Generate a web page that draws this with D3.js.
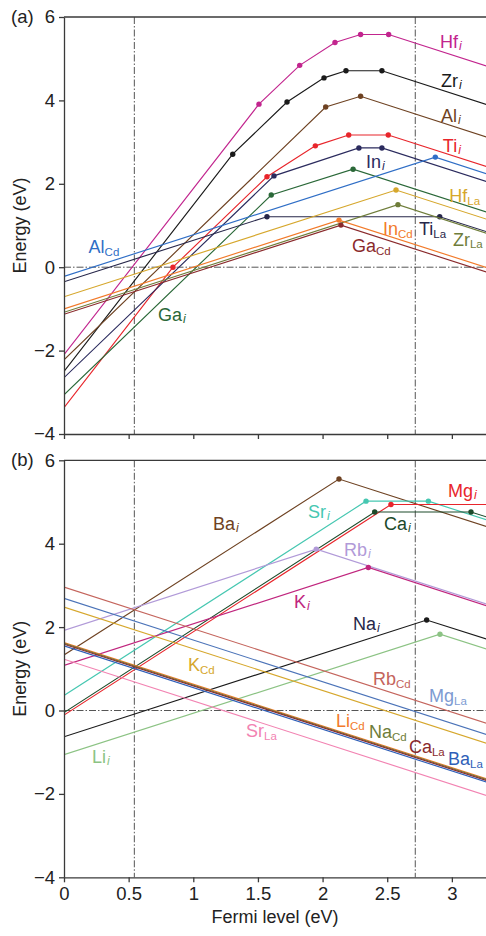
<!DOCTYPE html>
<html>
<head>
<meta charset="utf-8">
<script src="https://cdn.jsdelivr.net/npm/d3@7"></script>
<style>
  body { margin: 0; background: #fff; }
  svg { display: block; font-family: "Liberation Sans", Arial, sans-serif; }
</style>
</head>
<body>
<div id="chart"></div>
<script>
// ---- panel (a): [Fermi level, formation energy] at each kink ----
const hfI  = [[0, -2.1], [1.508, 3.91], [1.823, 4.84], [2.096, 5.39], [2.294, 5.58], [2.511, 5.58], [3.27, 4.82]];
const zrI  = [[0, -2.5], [1.305, 2.71], [1.725, 3.96], [2.011, 4.54], [2.181, 4.71], [2.459, 4.71], [3.27, 3.90]];
const alI  = [[0, -2.22], [2.024, 3.84], [2.294, 4.10], [3.27, 3.12]];
const tiI  = [[0, -3.37], [0.843, 0.0], [1.570, 2.17], [1.944, 2.91], [2.202, 3.17], [2.508, 3.17], [3.27, 2.41]];
const inI  = [[0, -2.65], [1.624, 2.19], [2.281, 2.86], [2.459, 2.86], [3.27, 2.05]];
const gaI  = [[0, -3.06], [1.603, 1.73], [2.236, 2.35], [3.27, 1.32]];
const alCd = [[0, -0.22], [2.872, 2.64], [3.27, 2.24]];
const tiLa = [[0, -0.35], [1.570, 1.21], [2.906, 1.21], [3.27, 0.85]];
const hfLa = [[0, -0.71], [2.568, 1.85], [3.27, 1.15]];
const zrLa = [[0, -1.08], [2.583, 1.50], [3.27, 0.81]];
const inCd = [[0, -1.00], [2.127, 1.13], [3.27, -0.01]];
const gaCd = [[0, -1.13], [2.142, 1.01], [3.27, -0.12]];

// ---- panel (b) ----
const baI  = [[0, 1.33], [2.127, 5.55], [3.27, 4.41]];
const srI  = [[0, 0.36], [2.336, 5.02], [2.818, 5.02], [3.27, 4.57]];
const mgI  = [[0, -0.11], [2.529, 4.94], [3.27, 4.94]];
const caI  = [[0, -0.05], [2.403, 4.76], [3.148, 4.76], [3.27, 4.64]];
const rbI  = [[0, 1.92], [1.951, 3.87], [3.27, 2.55]];
const kI   = [[0, 1.08], [2.354, 3.43], [3.27, 2.51]];
const naI  = [[0, -0.63], [2.805, 2.17], [3.27, 1.71]];
const liI  = [[0, -1.06], [2.908, 1.83], [3.27, 1.47]];
const rbCd = [[0, 2.96], [3.27, -0.31]];
const mgLa = [[0, 2.69], [3.27, -0.58]];
const kCd  = [[0, 2.48], [3.27, -0.79]];
const liCd = [[0, 1.63], [3.27, -1.64]];
const naCd = [[0, 1.61], [3.27, -1.66]];
const caLa = [[0, 1.59], [3.27, -1.68]];
const baLa = [[0, 1.55], [3.27, -1.72]];
const srLa = [[0, 1.23], [3.27, -2.04]];

// defect names, sites and where the label sits (Fermi level, energy)
const namesA  = ['Hf', 'Zr', 'Al', 'Ti', 'In', 'Ga', 'Al', 'Ti', 'Hf', 'Zr', 'In', 'Ga'];
const sitesA  = ['i', 'i', 'i', 'i', 'i', 'i', 'Cd', 'La', 'La', 'La', 'Cd', 'Cd'];
const curvesA = [hfI, zrI, alI, tiI, inI, gaI, alCd, tiLa, hfLa, zrLa, inCd, gaCd];
const labelAtA = [[2.908, 5.26], [2.916, 4.32], [2.916, 3.48], [2.93, 2.76], [2.336, 2.38], [0.727, -1.29],
                  [0.19, 0.34], [2.746, 0.77], [2.980, 1.56], [3.008, 0.51], [2.467, 0.77], [2.227, 0.36]];

const namesB  = ['Ba', 'Sr', 'Mg', 'Ca', 'Rb', 'K', 'Na', 'Li', 'Rb', 'Mg', 'K', 'Li', 'Na', 'Ca', 'Ba', 'Sr'];
const sitesB  = ['i', 'i', 'i', 'i', 'i', 'i', 'i', 'i', 'Cd', 'La', 'Cd', 'Cd', 'Cd', 'La', 'La', 'La'];
const curvesB = [baI, srI, mgI, caI, rbI, kI, naI, liI, rbCd, mgLa, kCd, liCd, naCd, caLa, baLa, srLa];
const labelAtB = [[1.152, 4.32], [1.887, 4.61], [2.970, 5.12], [2.475, 4.33], [2.166, 3.70], [1.779, 2.45],
                  [2.235, 1.93], [0.217, -1.26], [2.390, 0.61], [2.823, 0.20], [0.959, 0.94], [2.104, -0.40],
                  [2.359, -0.67], [2.668, -1.02], [2.970, -1.31], [1.408, -0.64]];

const yTicks = [-4, -2, 0, 2, 4, 6];
const xTicks = [0, 0.5, 1, 1.5, 2, 2.5, 3];
const vLines = [0.544, 2.717];

const colorsA = ['#c2258e', '#1a1a1a', '#6e4222', '#e8252b', '#2b2b5e', '#2a6838',
                 '#2f6ec6', '#27274a', '#d6a72c', '#6f7d3a', '#f27a2a', '#8a2a2c'];
const labelColorsA = colorsA.slice();
const colorsB = ['#6e4222', '#46c7b1', '#e8252b', '#1c4a2a', '#b19ad8', '#c0267e', '#1a1a1a', '#8cc384',
                 '#c4645c', '#4b73b8', '#d6a72c', '#f27a2a', '#6f7d3a', '#8a2a2c', '#2f5fb8', '#f283b2'];
const labelColorsB = colorsB.slice();
labelColorsB[6] = '#27274a';
labelColorsB[9] = '#7d9bd2';

const W = 486, H = 936;
const svg = d3.select('#chart').append('svg').attr('width', W).attr('height', H);

const x = d3.scaleLinear().domain([0, 3.264]).range([64, 486]);

function drawPanel(top, bottom, curves, names, sites, colors, labelColors, labelAt, tag, showXLabels) {
    const y = d3.scaleLinear().domain([-4, 6]).range([bottom, top]);
    const g = svg.append('g');
    const clipId = 'clip-' + tag;
    svg.append('clipPath').attr('id', clipId)
        .append('rect').attr('x', 64).attr('y', top).attr('width', W - 64).attr('height', bottom - top);

    // dash-dot guides
    const guides = g.append('g').attr('stroke', '#555').attr('stroke-width', 1)
        .attr('stroke-dasharray', '7,2,1.5,2').attr('fill', 'none');
    guides.append('line').attr('x1', x(0)).attr('x2', W).attr('y1', y(0)).attr('y2', y(0));
    vLines.forEach(function (v) {
        guides.append('line').attr('x1', x(v)).attr('x2', x(v)).attr('y1', top).attr('y2', bottom);
    });

    const line = d3.line().x(function (d) { return x(d[0]); }).y(function (d) { return y(d[1]); });
    const plot = g.append('g').attr('clip-path', 'url(#' + clipId + ')');
    curves.forEach(function (c, i) {
        plot.append('path').attr('d', line(c)).attr('fill', 'none')
            .attr('stroke', colors[i]).attr('stroke-width', 1.15);
        // transition levels = inner kinks
        plot.selectAll(null).data(c.slice(1, -1)).enter().append('circle')
            .attr('cx', function (d) { return x(d[0]); })
            .attr('cy', function (d) { return y(d[1]); })
            .attr('r', 2.7).attr('fill', colors[i]);
    });

    // labels
    names.forEach(function (n, i) {
        const t = g.append('text')
            .attr('x', x(labelAt[i][0])).attr('y', y(labelAt[i][1]))
            .attr('fill', labelColors[i]).style('font-size', '18px');
        t.append('tspan').text(n);
        const s = t.append('tspan').attr('dy', sites[i] === 'i' ? 2 : 2.5)
            .style('font-size', sites[i] === 'i' ? '12.5px' : '11.5px').text(sites[i]);
        if (sites[i] === 'i') s.style('font-style', 'italic').attr('dx', 1);
    });

    // axes
    const yAxis = d3.axisLeft(y).tickValues(yTicks).tickSize(5).tickSizeOuter(0).tickPadding(4);
    const gy = g.append('g').attr('transform', 'translate(64,0)').call(yAxis);
    const xAxis = d3.axisBottom(x).tickValues(xTicks).tickSize(5).tickSizeOuter(0).tickPadding(5)
        .tickFormat(showXLabels ? d3.format('') : '');
    const gx = g.append('g').attr('transform', 'translate(0,' + bottom + ')').call(xAxis);
    [gx, gy].forEach(function (a) {
        a.selectAll('path, line').attr('stroke', '#3a3a3a').attr('stroke-width', 1.3);
        a.selectAll('text').attr('fill', '#222').style('font-size', '18.5px')
            .style('font-family', '"Liberation Sans", Arial, sans-serif');
    });
    g.append('line').attr('x1', 64).attr('x2', W).attr('y1', top).attr('y2', top)
        .attr('stroke', '#3a3a3a').attr('stroke-width', 1.3);

    g.append('text').attr('x', 11).attr('y', top + 6).attr('fill', '#222')
        .style('font-size', '18.5px').text('(' + tag + ')');
    g.append('text').attr('transform', 'translate(26,' + ((top + bottom) / 2) + ') rotate(-90)')
        .attr('text-anchor', 'middle').attr('fill', '#222').style('font-size', '18px').text('Energy (eV)');
}

drawPanel(17, 434, curvesA, namesA, sitesA, colorsA, labelColorsA, labelAtA, 'a', false);
drawPanel(460.3, 877.3, curvesB, namesB, sitesB, colorsB, labelColorsB, labelAtB, 'b', true);

svg.append('text').attr('x', 275).attr('y', 923).attr('text-anchor', 'middle')
    .attr('fill', '#222').style('font-size', '18px').text('Fermi level (eV)');
</script>
</body>
</html>
